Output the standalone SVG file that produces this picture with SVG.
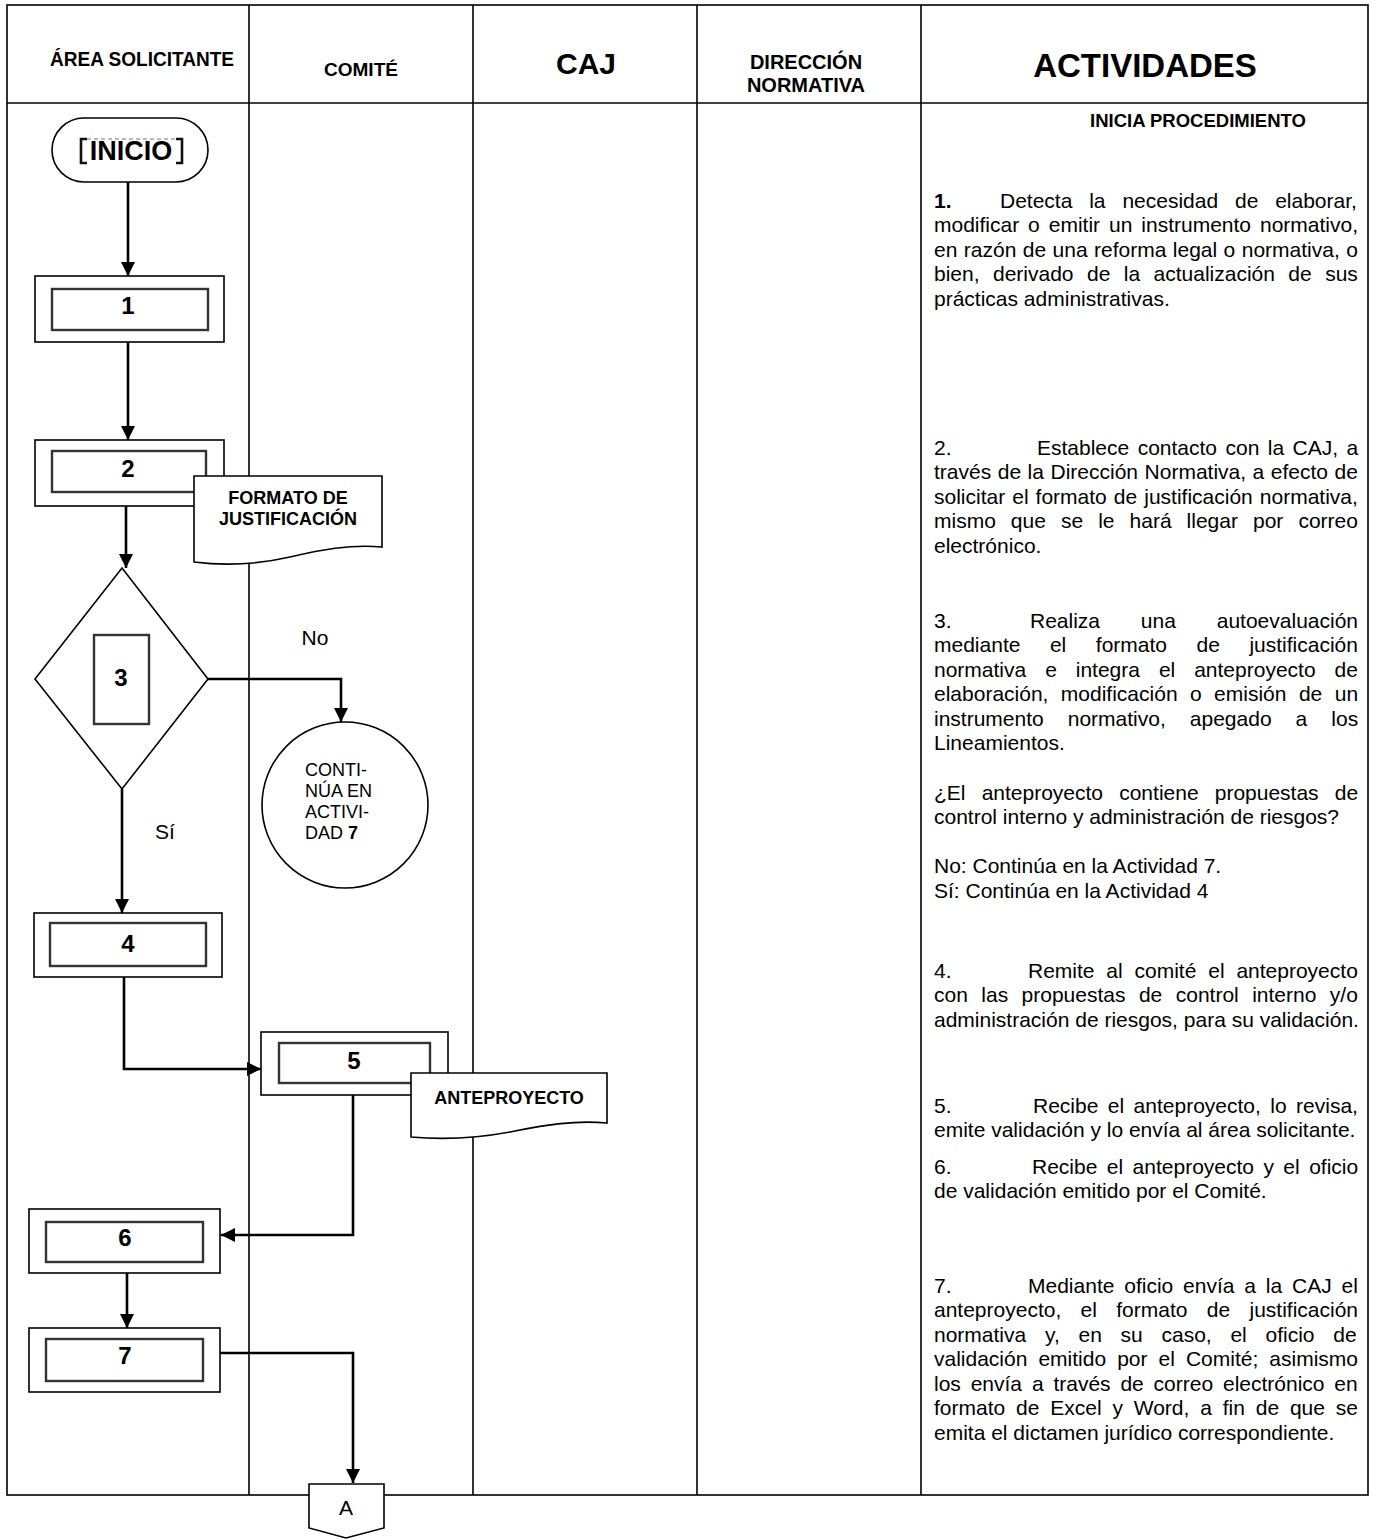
<svg xmlns="http://www.w3.org/2000/svg" width="1378" height="1539" viewBox="0 0 1378 1539">
<defs>
<marker id="ah" viewBox="0 0 10 10" refX="10" refY="5" markerWidth="14" markerHeight="14" markerUnits="userSpaceOnUse" orient="auto">
<path d="M0,0 L10,5 L0,10 Z" fill="#000"/>
</marker>
<style>
.grid{stroke:#000;stroke-width:1.6;fill:none}
.shape{fill:#fff;stroke:#000;stroke-width:1.6}
.inner{fill:none;stroke:#333;stroke-width:2.4}
.conn{fill:none;stroke:#000;stroke-width:2.6;marker-end:url(#ah)}
text{font-family:"Liberation Sans",Arial,sans-serif;fill:#000}
.hd{font-weight:bold;text-anchor:middle}
.num{font-weight:bold;font-size:24px;text-anchor:middle}
.doc{font-weight:bold;font-size:18px;text-anchor:middle}
.p{font-size:21px}
.lbl{font-size:21px;text-anchor:middle}
.cir{font-size:18px}
</style>
</defs>
<rect width="1378" height="1539" fill="#fff"/>
<g id="lanes">
<rect class="grid" x="7" y="5" width="1361" height="1490"/>
<line class="grid" x1="7" y1="103" x2="1368" y2="103"/>
<line class="grid" x1="249" y1="5" x2="249" y2="1495"/>
<line class="grid" x1="473" y1="5" x2="473" y2="1495"/>
<line class="grid" x1="697" y1="5" x2="697" y2="1495"/>
<line class="grid" x1="921" y1="5" x2="921" y2="1495"/>
<text class="hd" x="142" y="66" font-size="20" textLength="184" lengthAdjust="spacingAndGlyphs">ÁREA SOLICITANTE</text>
<text class="hd" x="361" y="76" font-size="19">COMITÉ</text>
<text class="hd" x="586" y="74" font-size="30">CAJ</text>
<text class="hd" x="806" y="69" font-size="20">DIRECCIÓN</text>
<text class="hd" x="806" y="92" font-size="20">NORMATIVA</text>
<text class="hd" x="1145" y="77" font-size="33">ACTIVIDADES</text>
</g>
<g id="activities">
<text class="hd" x="1198" y="127" font-size="18.5">INICIA PROCEDIMIENTO</text>
<text class="p" x="934" y="207.5" font-weight="bold">1.</text>
<text class="p" x="1000" y="207.5" style="word-spacing:11px">Detecta la necesidad de elaborar,</text>
<text class="p" x="934" y="232" style="word-spacing:3.1px">modificar o emitir un instrumento normativo,</text>
<text class="p" x="934" y="256.5" style="word-spacing:0.6px">en razón de una reforma legal o normativa, o</text>
<text class="p" x="934" y="281" style="word-spacing:7.6px">bien, derivado de la actualización de sus</text>
<text class="p" x="934" y="305.5">prácticas administrativas.</text>

<text class="p" x="934" y="454.5">2.</text>
<text class="p" x="1037" y="454.5" style="word-spacing:2.6px">Establece contacto con la CAJ, a</text>
<text class="p" x="934" y="479" style="word-spacing:0.7px">través de la Dirección Normativa, a efecto de</text>
<text class="p" x="934" y="503.5" style="word-spacing:1.2px">solicitar el formato de justificación normativa,</text>
<text class="p" x="934" y="528" style="word-spacing:9.2px">mismo que se le hará llegar por correo</text>
<text class="p" x="934" y="552.5">electrónico.</text>

<text class="p" x="934" y="627.5">3.</text>
<text class="p" x="1030" y="627.5" style="word-spacing:35px">Realiza una autoevaluación</text>
<text class="p" x="934" y="652" style="word-spacing:23.7px">mediante el formato de justificación</text>
<text class="p" x="934" y="676.5" style="word-spacing:13.1px">normativa e integra el anteproyecto de</text>
<text class="p" x="934" y="701" style="word-spacing:6.6px">elaboración, modificación o emisión de un</text>
<text class="p" x="934" y="725.5" style="word-spacing:18.2px">instrumento normativo, apegado a los</text>
<text class="p" x="934" y="750">Lineamientos.</text>
<text class="p" x="934" y="799.5" style="word-spacing:10.3px">¿El anteproyecto contiene propuestas de</text>
<text class="p" x="934" y="824">control interno y administración de riesgos?</text>
<text class="p" x="934" y="873">No: Continúa en la Actividad 7.</text>
<text class="p" x="934" y="897.5">Sí: Continúa en la Actividad 4</text>

<text class="p" x="934" y="977.5">4.</text>
<text class="p" x="1028" y="977.5" style="word-spacing:6px">Remite al comité el anteproyecto</text>
<text class="p" x="934" y="1002" style="word-spacing:7.6px">con las propuestas de control interno y/o</text>
<text class="p" x="934" y="1026.5">administración de riesgos, para su validación.</text>

<text class="p" x="934" y="1112.5">5.</text>
<text class="p" x="1033" y="1112.5" style="word-spacing:3.6px">Recibe el anteproyecto, lo revisa,</text>
<text class="p" x="934" y="1137">emite validación y lo envía al área solicitante.</text>

<text class="p" x="934" y="1173.5">6.</text>
<text class="p" x="1032" y="1173.5" style="word-spacing:3.6px">Recibe el anteproyecto y el oficio</text>
<text class="p" x="934" y="1198">de validación emitido por el Comité.</text>

<text class="p" x="934" y="1292.5">7.</text>
<text class="p" x="1028" y="1292.5" style="word-spacing:4px">Mediante oficio envía a la CAJ el</text>
<text class="p" x="934" y="1317" style="word-spacing:13.5px">anteproyecto, el formato de justificación</text>
<text class="p" x="934" y="1341.5" style="word-spacing:12.9px">normativa y, en su caso, el oficio de</text>
<text class="p" x="934" y="1366" style="word-spacing:5.2px">validación emitido por el Comité; asimismo</text>
<text class="p" x="934" y="1390.5" style="word-spacing:4px">los envía a través de correo electrónico en</text>
<text class="p" x="934" y="1415" style="word-spacing:5px">formato de Excel y Word, a fin de que se</text>
<text class="p" x="934" y="1439.5">emita el dictamen jurídico correspondiente.</text>
</g>
<g id="connectors">
<path class="conn" d="M128,182 V276"/>
<path class="conn" d="M128,342 V440"/>
<path class="conn" d="M126,506 V568"/>
<path class="conn" d="M208,679 H341 V722"/>
<path class="conn" d="M122,789 V913"/>
<path class="conn" d="M124,977 V1069 H261"/>
<path class="conn" d="M353,1095 V1235 H221"/>
<path class="conn" d="M127,1273 V1328"/>
<path class="conn" d="M220,1353 H353 V1483"/>
<text class="lbl" x="315" y="645">No</text>
<text class="lbl" x="165" y="839">Sí</text>
</g>
<g id="node-inicio">
<rect class="shape" x="52" y="118" width="156" height="64" rx="32" ry="32"/>
<path d="M87,139 H81 V163 H87 M176,139 H182 V163 H176" fill="none" stroke="#111" stroke-width="2.6"/>
<path d="M87,139 H176" fill="none" stroke="#777" stroke-width="1" stroke-dasharray="4 3"/>
<text class="hd" x="131" y="160" font-size="27">INICIO</text>
</g>
<g id="node-1">
<rect class="shape" x="35" y="276" width="189" height="66"/>
<rect class="inner" x="52" y="289" width="156" height="41"/>
<text class="num" x="128" y="314">1</text>
</g>
<g id="node-2">
<rect class="shape" x="35" y="440" width="189" height="66"/>
<rect class="inner" x="52" y="451" width="154" height="41"/>
<text class="num" x="128" y="477">2</text>
</g>
<g id="doc-formato">
<path class="shape" d="M194,476 H382 V547 C350,544 320,550 290,557 C255,565 225,566 194,562 Z"/>
<text class="doc" x="288" y="504">FORMATO DE</text>
<text class="doc" x="288" y="525">JUSTIFICACIÓN</text>
</g>
<g id="node-3">
<path class="shape" d="M122,568 L208,679 L122,789 L35,679 Z"/>
<rect class="inner" x="94" y="635" width="55" height="89"/>
<text class="num" x="121" y="686">3</text>
</g>
<g id="node-cont7">
<circle class="shape" cx="345" cy="805" r="83"/>
<text class="cir" x="305" y="776">CONTI-</text>
<text class="cir" x="305" y="797">NÚA EN</text>
<text class="cir" x="305" y="818">ACTIVI-</text>
<text class="cir" x="305" y="839">DAD <tspan font-weight="bold">7</tspan></text>
</g>
<g id="node-4">
<rect class="shape" x="34" y="913" width="188" height="64"/>
<rect class="inner" x="50" y="923" width="156" height="43"/>
<text class="num" x="128" y="952">4</text>
</g>
<g id="node-5">
<rect class="shape" x="261" y="1032" width="187" height="63"/>
<rect class="inner" x="279" y="1043" width="151" height="40"/>
<text class="num" x="354" y="1069">5</text>
</g>
<g id="doc-anteproyecto">
<path class="shape" d="M411,1073 H607 V1123 C575,1120 545,1125 515,1131 C480,1138 445,1140 411,1137 Z"/>
<text class="doc" x="509" y="1104">ANTEPROYECTO</text>
</g>
<g id="node-6">
<rect class="shape" x="29" y="1209" width="191" height="64"/>
<rect class="inner" x="46" y="1222" width="157" height="40"/>
<text class="num" x="125" y="1246">6</text>
</g>
<g id="node-7">
<rect class="shape" x="29" y="1328" width="191" height="64"/>
<rect class="inner" x="46" y="1339" width="157" height="42"/>
<text class="num" x="125" y="1364">7</text>
</g>
<g id="node-A">
<path class="shape" d="M309,1484 H384 V1528 L346,1538 L309,1528 Z"/>
<text class="lbl" x="346" y="1515" font-size="20">A</text>
</g>
</svg>
